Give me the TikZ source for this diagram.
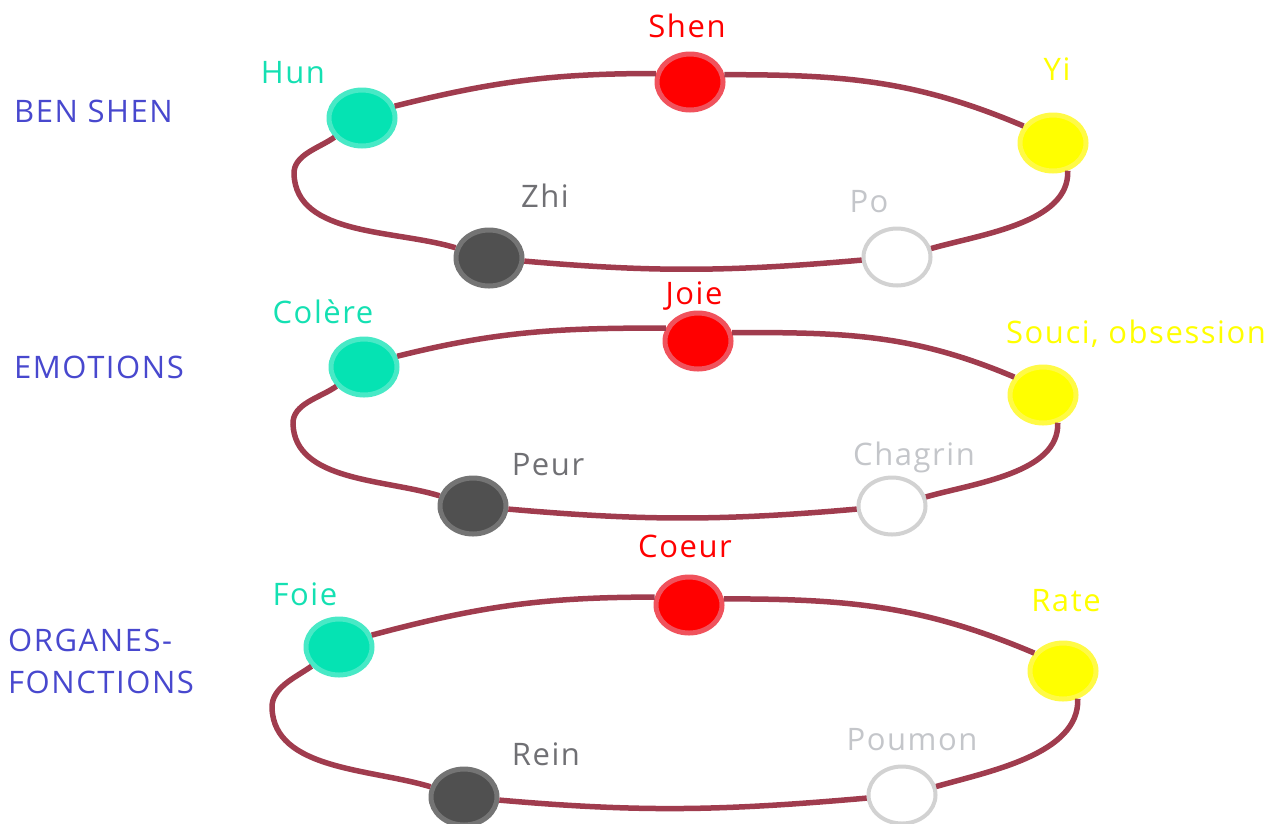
\documentclass[tikz,border=0pt]{standalone}
\usepackage{fontspec}
\setmainfont{Open Sans}[LetterSpace=5]
\usetikzlibrary{shapes.geometric}
\definecolor{ringcol}{RGB}{160,60,78}
\definecolor{tealfill}{RGB}{5,227,179}
\definecolor{tealedge}{RGB}{72,233,198}
\definecolor{tealtext}{RGB}{20,224,178}
\definecolor{redfill}{RGB}{255,0,0}
\definecolor{rededge}{RGB}{240,82,92}
\definecolor{yelfill}{RGB}{255,255,0}
\definecolor{yeledge}{RGB}{255,250,70}
\definecolor{yeltext}{RGB}{255,255,0}
\definecolor{darkfill}{RGB}{80,80,80}
\definecolor{darkedge}{RGB}{116,116,116}
\definecolor{darktext}{RGB}{112,112,116}
\definecolor{lightedge}{RGB}{210,210,210}
\definecolor{lighttext}{RGB}{196,198,202}
\definecolor{titleblue}{RGB}{72,72,206}
\tikzset{
  ringline/.style={draw=ringcol, line width=5.5pt},
  dot/.style={ellipse, minimum width=66pt, minimum height=56pt, line width=5pt, inner sep=0pt},
  elwood/.style={dot, fill=tealfill, draw=tealedge},
  elfire/.style={dot, fill=redfill, draw=rededge},
  elearth/.style={dot, fill=yelfill, draw=yeledge},
  elmetal/.style={dot, fill=white, draw=lightedge, line width=4pt, minimum width=67pt, minimum height=57pt},
  elwater/.style={dot, fill=darkfill, draw=darkedge},
  lbl/.style={anchor=base, inner sep=0pt, font=\fontsize{31}{36}\selectfont},
  ttl/.style={anchor=base west, inner sep=0pt, text=titleblue, font=\fontsize{31}{36}\selectfont},
}
\begin{document}
\begin{tikzpicture}[x=1pt,y=1pt]
\useasboundingbox (0,0) rectangle (1276,-823);
% titles
\node[ttl] (t1) at (14,-122) {BEN SHEN};
\node[ttl] (t2) at (14,-378) {EMOTIONS};
\node[ttl] (t3a) at (8,-651) {ORGANES-};
\node[ttl] (t3b) at (8,-693) {FONCTIONS};

% ring 1
\node[elwood]  (hun)  at (362,-118) {};
\node[elfire]  (shen) at (690,-82)  {};
\node[elearth] (yi)   at (1053,-143) {};
\node[elmetal] (po)   at (897,-257) {};
\node[elwater] (zhi)  at (489,-258) {};
\coordinate (la) at (294,-174);
\draw[ringline] (hun.20) to[out=14,in=180] (shen.166);
\draw[ringline] (shen.12) to[out=0,in=157] (yi.150);
\draw[ringline] (yi.-62) to[out=-88,in=16,looseness=0.85] (po.14);
\draw[ringline] (po) to[out=185,in=-5] (zhi);
\draw[ringline] (zhi) to[out=163,in=-88,looseness=0.9] (la) to[out=92,in=215,looseness=0.9] (hun);
\node[lbl, text=tealtext]  (lhun)  at (293,-83)  {Hun};
\node[lbl, text=redfill]   (lshen) at (687,-37)  {Shen};
\node[lbl, text=yeltext]   (lyi)   at (1057,-80) {Yi};
\node[lbl, text=lighttext] (lpo)   at (869,-212) {Po};
\node[lbl, text=darktext]  (lzhi)  at (545,-207) {Zhi};

% ring 2
\node[elwood]  (colere)  at (364,-367) {};
\node[elfire]  (joie)    at (698,-341) {};
\node[elearth] (souci)   at (1043,-395) {};
\node[elmetal] (chagrin) at (892,-506) {};
\node[elwater] (peur)    at (473,-506) {};
\coordinate (lb) at (293,-424);
\draw[ringline] (colere.18) to[out=14,in=180] (joie.158);
\draw[ringline] (joie.14) to[out=0,in=157] (souci.148);
\draw[ringline] (souci.-62) to[out=-88,in=16,looseness=0.85] (chagrin.15);
\draw[ringline] (chagrin) to[out=185,in=-5] (peur);
\draw[ringline] (peur) to[out=163,in=-88,looseness=0.9] (lb) to[out=92,in=215,looseness=0.9] (colere);
\node[lbl, text=tealtext]  (lcolere)  at (323,-323) {Colère};
\node[lbl, text=redfill]   (ljoie)    at (694,-304) {Joie};
\node[lbl, text=yeltext]   (lsouci)   at (1136,-343) {Souci, obsession};
\node[lbl, text=lighttext] (lchagrin) at (914,-465) {Chagrin};
\node[lbl, text=darktext]  (lpeur)    at (548,-475) {Peur};

% ring 3
\node[elwood]  (foie)   at (339,-647) {};
\node[elfire]  (coeur)  at (689,-605) {};
\node[elearth] (rate)   at (1063,-671) {};
\node[elmetal] (poumon) at (902,-795) {};
\node[elwater] (rein)   at (464,-797) {};
\coordinate (lc) at (272,-708);
\draw[ringline] (foie.20) to[out=15,in=180] (coeur.167);
\draw[ringline] (coeur.10) to[out=0,in=157] (rate.148);
\draw[ringline] (rate.-62) to[out=-88,in=16,looseness=0.85] (poumon.14);
\draw[ringline] (poumon) to[out=185,in=-5] (rein);
\draw[ringline] (rein) to[out=163,in=-88,looseness=0.9] (lc) to[out=92,in=215,looseness=0.9] (foie);
\node[lbl, text=tealtext]  (lfoie)   at (305,-605) {Foie};
\node[lbl, text=redfill]   (lcoeur)  at (685,-557) {Coeur};
\node[lbl, text=yeltext]   (lrate)   at (1066,-611) {Rate};
\node[lbl, text=lighttext] (lpoumon) at (912,-750) {Poumon};
\node[lbl, text=darktext]  (lrein)   at (546,-765) {Rein};
\end{tikzpicture}
\end{document}
